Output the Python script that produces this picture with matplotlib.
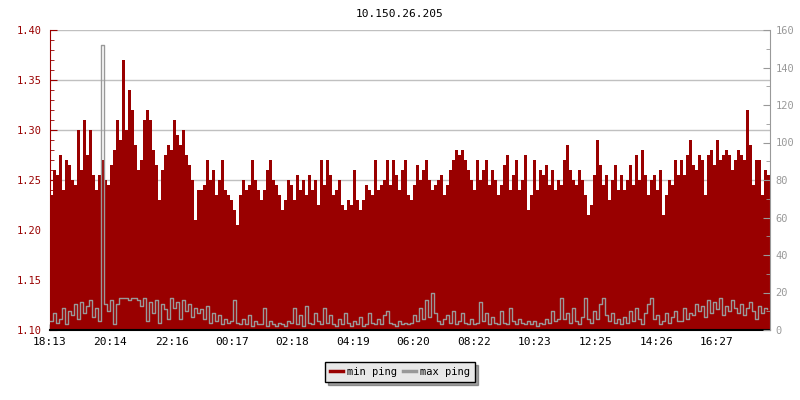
import matplotlib
matplotlib.use("Agg")
import matplotlib.pyplot as plt
import numpy as np
from matplotlib.ticker import MultipleLocator

title = "10.150.26.205"
tick_labels = ["18:13", "20:14", "22:16", "00:17", "02:18", "04:19",
               "06:20", "08:22", "10:23", "12:25", "14:26", "16:27"]
step_min = 6  # one sample every 6 minutes, 24 h

min_ping = [
    1.235, 1.26, 1.255, 1.275, 1.24, 1.27, 1.265, 1.25, 1.245, 1.30,
    1.26, 1.31, 1.275, 1.30, 1.255, 1.24, 1.255, 1.27, 1.25, 1.245,
    1.265, 1.28, 1.31, 1.29, 1.37, 1.30, 1.34, 1.32, 1.285, 1.26,
    1.27, 1.31, 1.32, 1.31, 1.28, 1.265, 1.23, 1.26, 1.275, 1.285,
    1.28, 1.31, 1.295, 1.285, 1.30, 1.275, 1.265, 1.25, 1.21, 1.24,
    1.24, 1.245, 1.27, 1.25, 1.26, 1.235, 1.25, 1.27, 1.24, 1.235,
    1.23, 1.22, 1.205, 1.235, 1.25, 1.24, 1.245, 1.27, 1.25, 1.24,
    1.23, 1.24, 1.26, 1.27, 1.25, 1.245, 1.235, 1.22, 1.23, 1.25,
    1.245, 1.23, 1.255, 1.24, 1.25, 1.235, 1.255, 1.24, 1.25, 1.225,
    1.27, 1.245, 1.27, 1.255, 1.235, 1.24, 1.25, 1.225, 1.22, 1.23,
    1.225, 1.26, 1.23, 1.22, 1.23, 1.245, 1.24, 1.235, 1.27, 1.24,
    1.245, 1.25, 1.27, 1.245, 1.27, 1.255, 1.24, 1.26, 1.27, 1.235,
    1.23, 1.245, 1.265, 1.25, 1.26, 1.27, 1.25, 1.24, 1.245, 1.25,
    1.255, 1.235, 1.245, 1.26, 1.27, 1.28, 1.275, 1.28, 1.27, 1.26,
    1.25, 1.24, 1.27, 1.25, 1.26, 1.27, 1.245, 1.26, 1.25, 1.235,
    1.245, 1.265, 1.275, 1.24, 1.255, 1.27, 1.24, 1.25, 1.275, 1.22,
    1.235, 1.27, 1.24, 1.26, 1.255, 1.265, 1.245, 1.26, 1.24, 1.25,
    1.245, 1.27, 1.285, 1.26, 1.25, 1.245, 1.26, 1.25, 1.235, 1.215,
    1.225, 1.255, 1.29, 1.265, 1.245, 1.255, 1.23, 1.25, 1.265, 1.24,
    1.255, 1.24, 1.25, 1.265, 1.245, 1.275, 1.25, 1.28, 1.255, 1.235,
    1.25, 1.255, 1.24, 1.26, 1.215, 1.235, 1.25, 1.245, 1.27, 1.255,
    1.27, 1.255, 1.275, 1.29, 1.265, 1.26, 1.275, 1.27, 1.235, 1.275,
    1.28, 1.265, 1.29, 1.27, 1.275, 1.28, 1.275, 1.26, 1.27, 1.28,
    1.275, 1.27, 1.32, 1.285, 1.245, 1.27, 1.27, 1.235, 1.26, 1.255,
]

max_ping = [
    5, 9, 4, 6, 12, 3, 10, 8, 14, 6,
    15, 9, 13, 16, 7, 12, 5, 152, 14, 10,
    16, 3, 14, 17, 17, 17, 16, 17, 17, 16,
    13, 17, 5, 15, 9, 16, 4, 14, 11, 6,
    17, 12, 15, 6, 16, 10, 14, 7, 12, 9,
    11, 6, 13, 4, 9, 5, 8, 3, 6, 4,
    5, 16, 4, 3, 6, 3, 8, 2, 5, 3,
    3, 12, 2, 5, 3, 2, 4, 3, 2, 5,
    4, 12, 3, 8, 2, 13, 4, 3, 9, 5,
    3, 12, 4, 8, 3, 2, 6, 3, 9, 4,
    2, 5, 3, 7, 2, 3, 9, 4, 3, 6,
    3, 8, 10, 4, 3, 2, 5, 3, 4, 3,
    4, 8, 5, 12, 6, 16, 7, 20, 9, 5,
    3, 6, 8, 4, 10, 3, 5, 9, 4, 3,
    6, 3, 4, 15, 5, 9, 3, 7, 4, 3,
    10, 4, 3, 12, 5, 3, 6, 4, 3, 5,
    3, 5, 2, 4, 3, 6, 4, 10, 5, 6,
    17, 6, 9, 4, 12, 5, 3, 7, 17, 6,
    4, 10, 6, 14, 17, 8, 5, 9, 4, 6,
    3, 7, 4, 10, 5, 12, 6, 3, 9, 14,
    17, 6, 8, 3, 5, 9, 4, 7, 10, 5,
    5, 12, 6, 9, 8, 14, 10, 13, 7, 16,
    9, 15, 11, 17, 8, 13, 10, 16, 12, 9,
    14, 8, 12, 15, 10, 6, 13, 9, 12, 11,
]

red = "#990000"
grey = "#999999"
mono = "DejaVu Sans Mono"

t = np.arange(len(min_ping)) * step_min

def minutes_from_start(lbl):
    h, m = map(int, lbl.split(":"))
    return ((h * 60 + m) - (18 * 60 + 13)) % 1440

tick_pos = [minutes_from_start(l) for l in tick_labels]

fig = plt.figure(figsize=(8, 4), dpi=100)
ax = fig.add_axes([0.0625, 0.175, 0.9, 0.75])
ax.bar(t, np.array(min_ping) - 1.10, bottom=1.10, width=step_min,
       align="edge", color=red, linewidth=0, zorder=2)
ax.set_xlim(0, 1440)
ax.set_ylim(1.10, 1.40)
ax.yaxis.set_major_locator(MultipleLocator(0.05))
ax.yaxis.set_minor_locator(MultipleLocator(0.01))
ax.grid(axis="y", color="#c0c0c0", linewidth=1, zorder=0)
ax.set_axisbelow(True)
ax.set_xticks(tick_pos)
ax.set_xticklabels(tick_labels, fontsize=8, family=mono)
ax.tick_params(axis="x", direction="in", length=4, width=1, color="black", pad=5)
ax.tick_params(axis="y", which="major", direction="in", length=5, colors=red, labelsize=7.5, pad=6)
ax.tick_params(axis="y", which="minor", direction="in", length=3, color=red)
for lab in ax.get_yticklabels():
    lab.set_family(mono)
ax.spines["top"].set_visible(False)
ax.spines["right"].set_visible(False)
ax.spines["left"].set_color(red)
ax.spines["bottom"].set_color("black")
ax.spines["bottom"].set_linewidth(1.5)

ax2 = ax.twinx()
ax2.plot(t, max_ping, drawstyle="steps-post", color=grey, linewidth=1, zorder=3)
ax2.set_ylim(0, 160)
ax2.yaxis.set_major_locator(MultipleLocator(20))
ax2.yaxis.set_minor_locator(MultipleLocator(10))
ax2.tick_params(axis="y", which="major", direction="in", length=5, colors=grey, labelsize=7.5, pad=4)
ax2.tick_params(axis="y", which="minor", direction="in", length=3, color=grey)
for lab in ax2.get_yticklabels():
    lab.set_family(mono)
for s in ["top", "left", "bottom"]:
    ax2.spines[s].set_visible(False)
ax2.spines["right"].set_color(grey)

fig.text(0.5, 0.965, title, ha="center", va="center", fontsize=8, family=mono)

h1 = plt.Line2D([], [], color=red, linewidth=2.5)
h2 = plt.Line2D([], [], color=grey, linewidth=2.5)
leg = fig.legend([h1, h2], ["min ping", "max ping"], loc="center",
                 bbox_to_anchor=(0.5, 0.07), ncol=2, frameon=True, shadow=True,
                 fancybox=False, prop={"family": mono, "size": 7.5},
                 handlelength=1.2, handletextpad=0.4, columnspacing=0.6,
                 borderpad=0.5)
leg.get_frame().set_facecolor("#e8e8e8")
leg.get_frame().set_edgecolor("black")
leg.get_frame().set_alpha(1)

fig.savefig("out.png", dpi=100)
